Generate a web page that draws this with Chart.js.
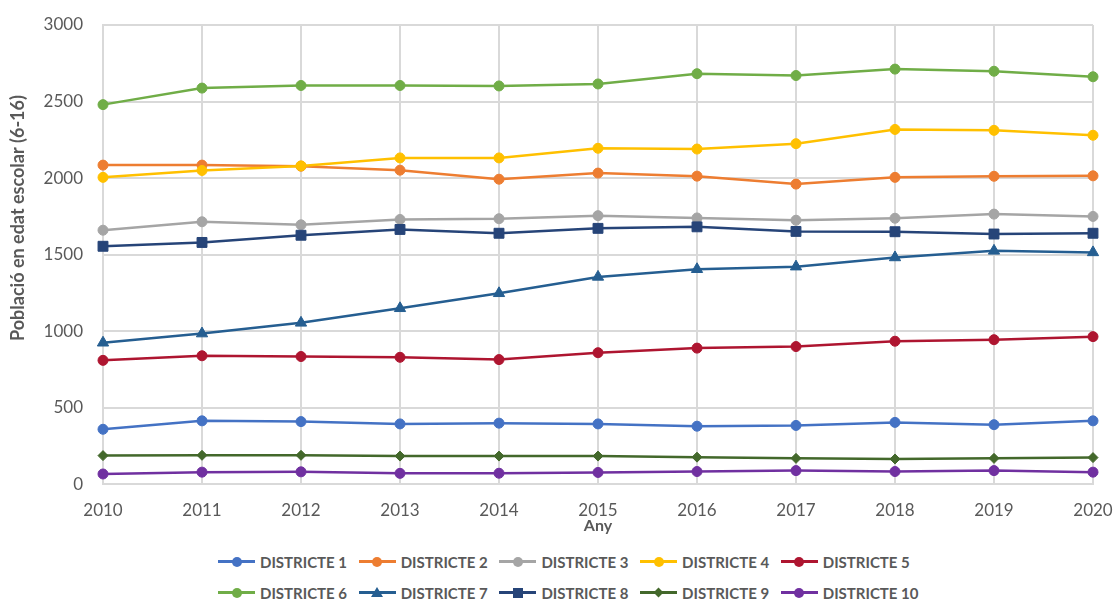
<!DOCTYPE html>
<html>
<head>
<meta charset="utf-8">
<script src="https://cdn.jsdelivr.net/npm/chart.js@4/dist/chart.umd.min.js"></script>
<style>
  html, body { margin: 0; padding: 0; background: #fff; }
  #wrap { position: relative; width: 1114px; height: 602px; }
  #legend {
    position: absolute; left: 218px; top: 546px;
    display: grid; grid-template-columns: repeat(5, 140.7px); grid-auto-rows: 31px;
    font: bold 15px Lato, sans-serif; color: #595959;
  }
  .item { display: flex; align-items: center; white-space: nowrap; }
  .key { position: relative; flex: none; width: 37px; height: 19px; margin-right: 5px; }
  .key .ln { position: absolute; left: 0; right: 0; top: 8px; height: 3px; }
  .key .mk { position: absolute; left: 50%; top: 50%; }
</style>
</head>
<body>
<div id="wrap">
  <canvas id="myChart" width="1114" height="540"></canvas>
  <div id="legend"></div>
</div>
<script>
// years on the x axis
var years = ['2010', '2011', '2012', '2013', '2014', '2015', '2016', '2017', '2018', '2019', '2020'];
var districtNames = ['DISTRICTE 1', 'DISTRICTE 2', 'DISTRICTE 3', 'DISTRICTE 4', 'DISTRICTE 5',
                     'DISTRICTE 6', 'DISTRICTE 7', 'DISTRICTE 8', 'DISTRICTE 9', 'DISTRICTE 10'];

// school-age population (6-16) per district
var district1 = [360, 415, 410, 395, 400, 395, 380, 385, 405, 390, 415];
var district2 = [2085, 2085, 2078, 2052, 1993, 2033, 2013, 1961, 2005, 2012, 2015];
var district3 = [1660, 1715, 1695, 1730, 1735, 1755, 1740, 1725, 1738, 1765, 1750];
var district4 = [2005, 2050, 2080, 2132, 2132, 2195, 2190, 2225, 2318, 2312, 2280];
var district5 = [810, 840, 835, 830, 815, 860, 890, 900, 935, 945, 965];
var district6 = [2480, 2588, 2605, 2605, 2602, 2615, 2682, 2670, 2712, 2698, 2662];
var district7 = [925, 985, 1055, 1150, 1248, 1355, 1405, 1422, 1482, 1525, 1515];
var district8 = [1555, 1580, 1627, 1665, 1640, 1672, 1682, 1652, 1650, 1635, 1640];
var district9 = [188, 190, 190, 185, 185, 185, 178, 170, 166, 170, 175];
var district10 = [68, 80, 82, 72, 73, 78, 84, 90, 84, 90, 80];

// y axis ticks
var yMin = 0, yMax = 3000, yStep = 500;
var xTitle = 'Any';
var yTitle = 'Població en edat escolar (6-16)';

var values = [district1, district2, district3, district4, district5,
              district6, district7, district8, district9, district10];
var colors = ['#4472C4', '#ED7D31', '#A5A5A5', '#FFC000', '#AE1530',
              '#70AD47', '#255E91', '#264478', '#43682B', '#7030A0'];
var markers = ['circle', 'circle', 'circle', 'circle', 'circle',
               'circle', 'triangle', 'rect', 'rectRot', 'circle'];
var markerRadius = { circle: 5, triangle: 6.5, rect: 7, rectRot: 5 };

var gridColor = '#d9d9d9';
var textColor = '#595959';
var font = 'Lato';

// the vertical axis title sits a bit above the middle in the original
var yTitlePlugin = {
    id: 'yTitle',
    afterDraw: function (chart) {
        var c = chart.ctx;
        c.save();
        c.translate(18, 218);
        c.rotate(-Math.PI / 2);
        c.textAlign = 'center';
        c.textBaseline = 'middle';
        c.font = 'bold 18px ' + font;
        c.fillStyle = textColor;
        c.fillText(yTitle, 0, 0);
        c.restore();
    }
};

var ctx = document.getElementById('myChart').getContext('2d');
var chart = new Chart(ctx, {
    type: 'line',
    data: {
        labels: years,
        datasets: districtNames.map(function (name, i) {
            return {
                label: name,
                data: values[i],
                borderColor: colors[i],
                backgroundColor: colors[i],
                pointBackgroundColor: colors[i],
                pointBorderColor: colors[i],
                borderWidth: 2.5,
                pointStyle: markers[i],
                pointRadius: markerRadius[markers[i]],
                pointBorderWidth: 1,
                tension: 0,
                // later districts on top, as in the original
                order: districtNames.length - i
            };
        })
    },
    options: {
        responsive: false,
        animation: false,
        layout: { padding: { top: 25, left: 0, right: 0, bottom: 0 } },
        plugins: {
            legend: { display: false },
            tooltip: { enabled: false }
        },
        scales: {
            x: {
                grid: { color: gridColor, lineWidth: 2, drawTicks: false },
                border: { color: gridColor, width: 2 },
                ticks: { color: textColor, font: { family: font, size: 17 }, padding: 16, maxRotation: 0, autoSkip: false },
                title: {
                    display: true, text: xTitle, color: textColor,
                    font: { family: font, size: 16, weight: 'bold' },
                    padding: { top: -21, bottom: 5 }
                },
                afterFit: function (scale) { scale.paddingRight = 21; }
            },
            y: {
                min: yMin, max: yMax,
                grid: { color: gridColor, lineWidth: 2, drawTicks: false },
                border: { color: gridColor, width: 2 },
                ticks: {
                    stepSize: yStep, color: textColor, font: { family: font, size: 17 }, padding: 20,
                    format: { useGrouping: false }
                },
                afterFit: function (scale) {
                    scale.width = 103;
                    scale.paddingTop = 10;
                    scale.paddingBottom = 10;
                }
            }
        }
    },
    plugins: [yTitlePlugin]
});

// legend in two rows of five, built from the datasets
function markerHtml(style, color) {
    if (style === 'triangle') {
        return '<span class="mk" style="margin:-6px 0 0 -6px;width:0;height:0;border-left:6px solid transparent;' +
               'border-right:6px solid transparent;border-bottom:10px solid ' + color + '"></span>';
    }
    if (style === 'rect') {
        return '<span class="mk" style="margin:-5px 0 0 -5px;width:10px;height:10px;background:' + color + '"></span>';
    }
    if (style === 'rectRot') {
        return '<span class="mk" style="margin:-3.5px 0 0 -3.5px;width:7px;height:7px;transform:rotate(45deg);background:' + color + '"></span>';
    }
    return '<span class="mk" style="margin:-5px 0 0 -5px;width:10px;height:10px;border-radius:50%;background:' + color + '"></span>';
}

var legendEl = document.getElementById('legend');
legendEl.innerHTML = chart.data.datasets.map(function (ds) {
    return '<div class="item"><span class="key"><span class="ln" style="background:' + ds.borderColor + '"></span>' +
           markerHtml(ds.pointStyle, ds.borderColor) + '</span>' + ds.label + '</div>';
}).join('');
</script>
</body>
</html>
